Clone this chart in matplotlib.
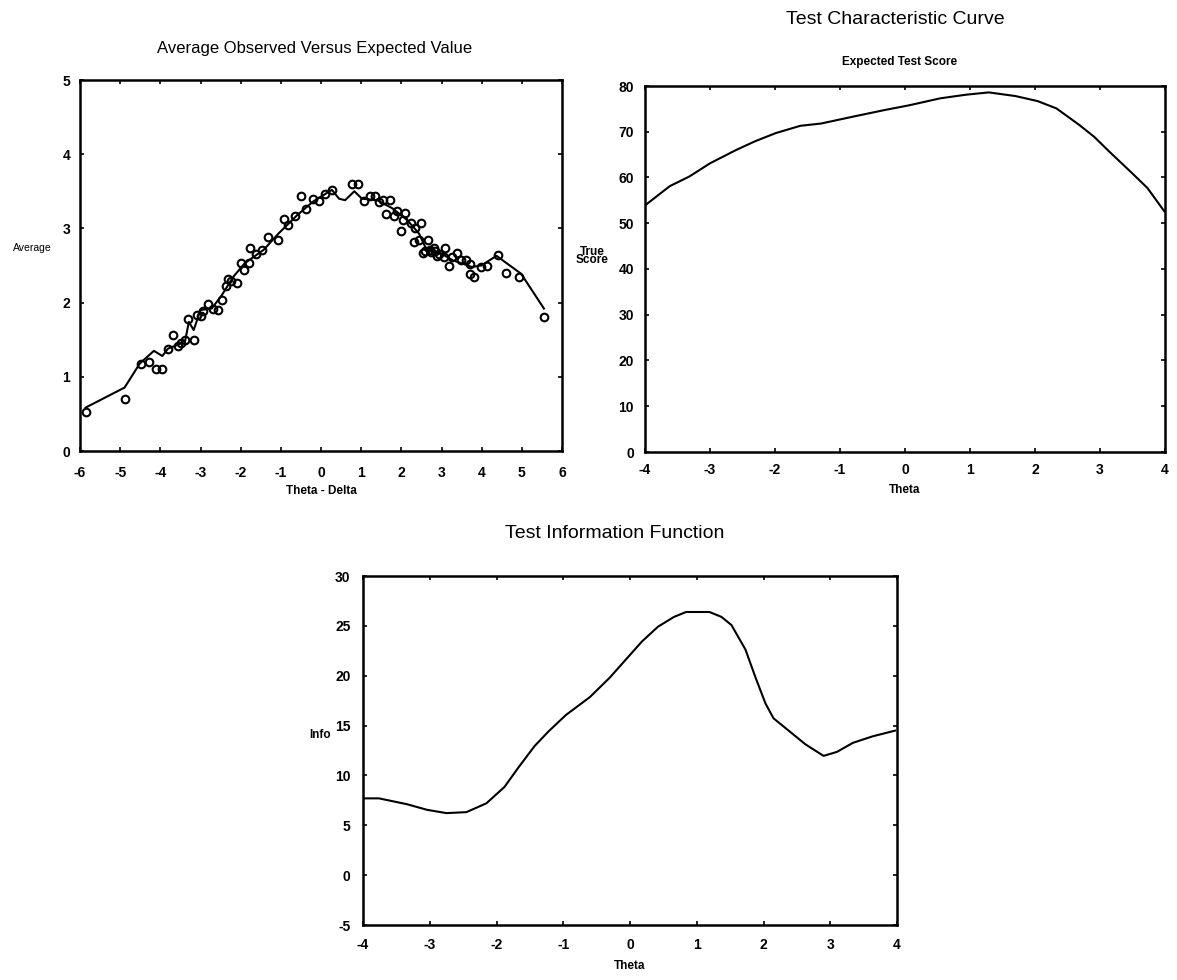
# Three IRT panels: observed vs expected, test characteristic curve, test information.

import numpy as np
import matplotlib
matplotlib.use("Agg")
import matplotlib.pyplot as plt

plt.rcParams["font.family"] = ["Liberation Sans", "DejaVu Sans"]
plt.rcParams["axes.unicode_minus"] = False

# Panel 1: observed averages (circles) and expected line
obs_x = [-5.84, -4.89, -4.49, -4.28, -4.11, -3.95, -3.81, -3.68, -3.57, -3.48,
         -3.38, -3.30, -3.17, -3.09, -2.98, -2.93, -2.82, -2.70, -2.56, -2.47,
         -2.37, -2.31, -2.23, -2.09, -1.99, -1.92, -1.80, -1.76, -1.62, -1.47,
         -1.31, -1.07, -0.93, -0.81, -0.65, -0.51, -0.37, -0.20, -0.06, 0.10,
         0.27, 0.77, 0.91, 1.07, 1.21, 1.35, 1.45, 1.54, 1.61, 1.73,
         1.81, 1.89, 1.98, 2.04, 2.10, 2.23, 2.34, 2.48, 2.32, 2.43,
         2.55, 2.60, 2.67, 2.72, 2.75, 2.81, 2.85, 2.90, 2.95, 3.05,
         3.09, 3.19, 3.26, 3.38, 3.49, 3.62, 3.71, 3.71, 3.82, 3.98,
         4.14, 4.40, 4.61, 4.94, 5.55]
obs_y = [0.53, 0.70, 1.17, 1.20, 1.11, 1.10, 1.37, 1.56, 1.41, 1.45,
         1.49, 1.78, 1.50, 1.83, 1.82, 1.89, 1.98, 1.91, 1.90, 2.03,
         2.23, 2.32, 2.29, 2.26, 2.53, 2.44, 2.53, 2.73, 2.66, 2.71,
         2.88, 2.85, 3.12, 3.05, 3.17, 3.43, 3.26, 3.39, 3.37, 3.46,
         3.52, 3.60, 3.60, 3.37, 3.43, 3.43, 3.36, 3.38, 3.19, 3.38,
         3.17, 3.24, 2.97, 3.11, 3.21, 3.07, 3.00, 3.07, 2.82, 2.85,
         2.67, 2.70, 2.84, 2.71, 2.68, 2.73, 2.70, 2.63, 2.66, 2.62,
         2.73, 2.50, 2.61, 2.67, 2.57, 2.57, 2.52, 2.39, 2.35, 2.48,
         2.50, 2.64, 2.40, 2.35, 1.81]
exp_x = [-5.86, -4.89, -4.51, -4.16, -3.95, -3.81, -3.57, -3.38, -3.29, -3.17,
         -3.00, -2.72, -2.47, -2.18, -1.90, -1.43, -1.06, -0.59, -0.20, 0.27,
         0.45, 0.60, 0.83, 1.02, 1.40, 1.78, 2.15, 2.44, 2.63, 3.00,
         3.28, 3.66, 3.75, 3.99, 4.37, 4.98, 5.55]
exp_y = [0.585, 0.855, 1.18, 1.35, 1.28, 1.38, 1.43, 1.49, 1.74, 1.63,
         1.90, 1.92, 2.10, 2.35, 2.53, 2.71, 2.93, 3.18, 3.36, 3.52,
         3.40, 3.38, 3.50, 3.40, 3.38, 3.27, 3.11, 2.93, 2.71, 2.66,
         2.57, 2.50, 2.48, 2.50, 2.63, 2.39, 1.92]

# Panel 2: test characteristic curve
tcc_theta = [-4.00, -3.62, -3.32, -3.00, -2.60, -2.31, -1.99, -1.61, -1.29, -0.80,
             -0.33, 0.07, 0.54, 0.94, 1.29, 1.70, 2.04, 2.33, 2.68, 2.91,
             3.14, 3.49, 3.73, 3.99]
tcc_score = [53.9, 58.1, 60.2, 63.1, 66.0, 67.9, 69.7, 71.3, 71.8, 73.3,
             74.7, 75.8, 77.3, 78.1, 78.6, 77.8, 76.7, 75.1, 71.5, 68.9,
             65.7, 61.0, 57.7, 52.6]

# Panel 3: test information function
tif_theta = [-3.97, -3.76, -3.34, -3.04, -2.75, -2.45, -2.15, -1.88, -1.67, -1.43,
             -1.22, -0.96, -0.60, -0.30, -0.06, 0.18, 0.42, 0.66, 0.84, 1.19,
             1.37, 1.52, 1.73, 1.88, 2.03, 2.15, 2.39, 2.63, 2.90, 3.10,
             3.34, 3.64, 3.97]
tif_info = [7.70, 7.70, 7.11, 6.55, 6.22, 6.32, 7.21, 8.85, 10.81, 12.94,
            14.42, 16.06, 17.86, 19.83, 21.64, 23.44, 24.92, 25.90, 26.39, 26.39,
            25.90, 25.08, 22.62, 19.83, 17.21, 15.73, 14.42, 13.11, 11.96, 12.36,
            13.27, 13.93, 14.49]

W, H = 1177, 980


def style_axes(ax, xpad, ypad):
    for sp in ax.spines.values():
        sp.set_linewidth(1.8)
    ax.tick_params(direction="in", top=True, right=True, length=3, width=1.2,
                   labelsize=10)
    ax.tick_params(axis="x", pad=xpad)
    ax.tick_params(axis="y", pad=ypad)
    for lab in ax.get_xticklabels() + ax.get_yticklabels():
        lab.set_fontweight("bold")


fig = plt.figure(figsize=(W / 100, H / 100), dpi=100)

# Top left
ax1 = fig.add_axes([80 / W, 1 - 451 / H, 482 / W, 371 / H])
ax1.plot(exp_x, exp_y, color="black", lw=1.5)
ax1.plot(obs_x, obs_y, "o", mfc="none", mec="black", ms=5.5, mew=1.5)
ax1.set_xlim(-6, 6)
ax1.set_ylim(0, 5)
ax1.set_xticks(np.arange(-6, 7, 1))
ax1.set_yticks(np.arange(0, 6, 1))
style_axes(ax1, 11, 7)
ax1.set_xlabel("Theta - Delta", fontsize=8.5, fontweight="bold")
ax1.xaxis.set_label_coords(0.5, -0.092)
fig.text(315 / W, 1 - 48 / H, "Average Observed Versus Expected Value",
         fontsize=12, ha="center", va="center")
fig.text(32 / W, 1 - 248 / H, "Average", fontsize=7.5, ha="center", va="center")

# Top right
ax2 = fig.add_axes([645 / W, 1 - 452 / H, 520 / W, 366 / H])
ax2.plot(tcc_theta, tcc_score, color="black", lw=1.5)
ax2.set_xlim(-4, 4)
ax2.set_ylim(0, 80)
ax2.set_xticks(np.arange(-4, 5, 1))
ax2.set_yticks(np.arange(0, 90, 10))
style_axes(ax2, 8, 8)
ax2.set_xlabel("Theta", fontsize=8.5, fontweight="bold")
ax2.xaxis.set_label_coords(0.5, -0.087)
fig.text(895 / W, 1 - 20 / H, "Test Characteristic Curve", fontsize=14,
         ha="center", va="center")
fig.text(900 / W, 1 - 62 / H, "Expected Test Score", fontsize=8.5,
         fontweight="bold", ha="center", va="center")
fig.text(592 / W, 1 - 256 / H, "True\nScore", fontsize=8.5, fontweight="bold",
         ha="center", va="center", linespacing=0.55)

# Bottom
ax3 = fig.add_axes([363 / W, 1 - 925 / H, 534 / W, 349 / H])
ax3.plot(tif_theta, tif_info, color="black", lw=1.5)
ax3.set_xlim(-4, 4)
ax3.set_ylim(-5, 30)
ax3.set_xticks(np.arange(-4, 5, 1))
ax3.set_yticks(np.arange(-5, 35, 5))
style_axes(ax3, 9, 9)
ax3.set_xlabel("Theta", fontsize=8.5, fontweight="bold")
ax3.xaxis.set_label_coords(0.5, -0.10)
fig.text(615 / W, 1 - 534 / H, "Test Information Function", fontsize=14,
         ha="center", va="center")
fig.text(320 / W, 1 - 735 / H, "Info", fontsize=8.5, fontweight="bold",
         ha="center", va="center")

fig.savefig("out.png", dpi=100)
